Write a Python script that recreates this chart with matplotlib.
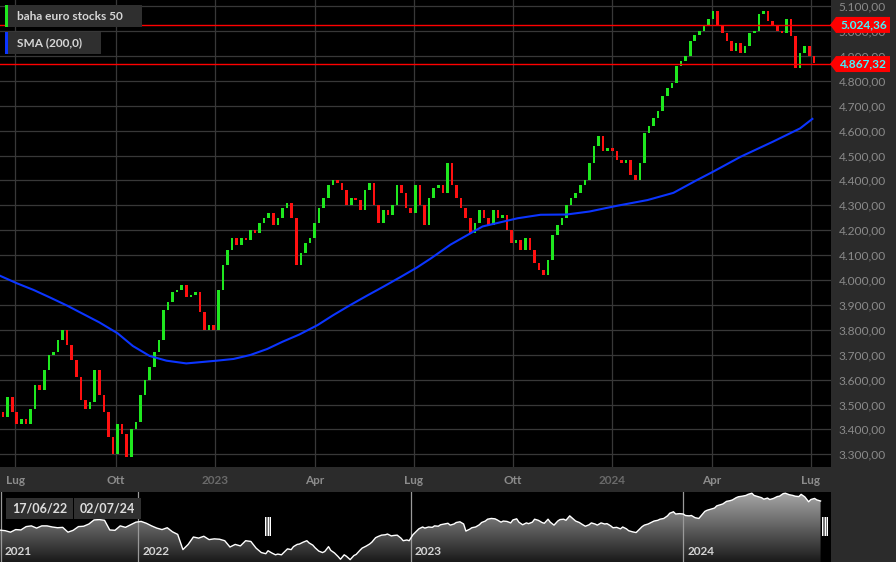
import numpy as np
import pandas as pd
import matplotlib
matplotlib.use("Agg")
import matplotlib.pyplot as plt
import matplotlib.dates as mdates
from matplotlib.patches import Rectangle, Polygon
from matplotlib.colors import LinearSegmentedColormap

plt.rcParams['font.family'] = ['Lato', 'DejaVu Sans']

# sedute di borsa dal 17/06/22, una candela ogni 3 sedute
days = pd.bdate_range('2022-06-17', periods=545)
candle_idx = np.arange(2, 534, 3)
first_open = 3470
closes = [
    3450, 3530, 3470, 3420, 3440, 3420, 3480, 3580, 3560, 3640,
    3700, 3710, 3760, 3800, 3740, 3680, 3610, 3520, 3480, 3510,
    3640, 3540, 3470, 3370, 3300, 3420, 3380, 3290, 3400, 3430,
    3540, 3600, 3650, 3710, 3760, 3880, 3910, 3950, 3960, 3980,
    3930, 3940, 3950, 3870, 3800, 3820, 3800,
    3960, 4060, 4120, 4170, 4140, 4170, 4160, 4200, 4190, 4230,
    4250, 4270, 4220, 4250, 4290, 4310, 4250, 4060, 4110, 4150,
    4170, 4230, 4290, 4330, 4380, 4400, 4390, 4360, 4300, 4330,
    4320, 4280, 4360, 4390, 4300, 4230, 4280, 4260, 4300, 4380,
    4350, 4290, 4270, 4380, 4300, 4220, 4330, 4370, 4380, 4350,
    4470, 4380, 4330, 4290, 4250, 4190, 4230, 4280, 4250, 4220,
    4280, 4250, 4260, 4200, 4150, 4160, 4120, 4170, 4120, 4070,
    4040, 4020, 4080, 4180, 4220, 4250, 4300, 4330, 4350, 4380,
    4400, 4470, 4540, 4580, 4520, 4530,
    4520, 4480, 4470, 4480, 4420, 4400, 4470, 4590, 4620, 4650,
    4680, 4740, 4770, 4790, 4860, 4880, 4900, 4960, 4985, 5000,
    5020, 5050, 5080, 5020, 4990, 4960, 4920, 4950, 4910, 4940,
    4990, 5000, 5070, 5080, 5040, 5020, 5000, 4990, 5050, 4980,
    4850, 4910, 4940, 4900, 4870,
]

# media mobile a 200 giorni
sma_idx = [0, 11, 22, 33, 44, 54, 65, 77, 87, 98, 109, 122, 142, 153, 164, 175,
           185, 196, 208, 218, 229, 240, 251, 262, 273, 282, 295, 316, 339, 354,
           371, 386, 404, 424, 441, 456, 467, 485, 506, 524, 532]
sma_vals = [4017, 3987, 3960, 3929, 3897, 3865, 3830, 3786, 3735, 3695, 3676, 3665,
            3676, 3683, 3699, 3723, 3752, 3781, 3819, 3858, 3898, 3936, 3973, 4011,
            4050, 4086, 4142, 4215, 4248, 4262, 4263, 4275, 4298, 4321, 4350, 4400,
            4435, 4495, 4555, 4609, 4647]

levels = [5024.36, 4867.32]

quarter_starts = ['2022-07-01', '2022-10-01', '2023-01-01', '2023-04-01', '2023-07-01',
                  '2023-10-01', '2024-01-01', '2024-04-01', '2024-07-01']
quarter_labels = ['Lug', 'Ott', '2023', 'Apr', 'Lug', 'Ott', '2024', 'Apr', 'Lug']

# navigatore: chiusure settimanali prima del periodo selezionato
pre_dates = pd.date_range('2021-06-30', periods=51, freq='7D')
pre_vals = [4085, 4070, 4030, 4100, 4090, 4180, 4200, 4140, 4200, 4200,
            4170, 4150, 4160, 4030, 4080, 4180, 4190, 4250, 4360, 4370,
            4350, 4090, 4080, 4200, 4160, 4230, 4300, 4320, 4270, 4200,
            4140, 4100, 4150, 4040, 3970, 3560, 3700, 3900, 3870, 3920,
            3830, 3850, 3840, 3800, 3630, 3700, 3660, 3800, 3780, 3600,
            3480]
years = ['2022-01-01', '2023-01-01', '2024-01-01']
year_labels = ['2021', '2022', '2023', '2024']


def it_num(v):
    return f"{v:,.2f}".replace(',', 'X').replace('.', ',').replace('X', '.')


W, H = 896, 562
fig = plt.figure(figsize=(W / 100, H / 100), dpi=100, facecolor='#2b2b2b')
ax = fig.add_axes([0, 95 / H, 831 / W, 467 / H], facecolor='black')
nav = fig.add_axes([0, 0, 831 / W, 70 / H], facecolor='black')

# --- grafico principale ---
ax.set_xlim(0, 544.2)
ax.set_ylim(3249, 5124.5)
for s in ax.spines.values():
    s.set_visible(False)
ax.set_axisbelow(True)
ax.grid(True, color='#383838', lw=0.9)

opens = np.array([first_open] + closes[:-1])
cl = np.array(closes)
cols = np.where(cl >= opens, '#1fe81f', '#ff1010')
ax.bar(candle_idx, cl - opens, bottom=opens, width=1.7, color=cols, linewidth=0, zorder=2)

ax.plot(sma_idx, sma_vals, color='#0b35ff', lw=1.5, zorder=3)
for v in levels:
    ax.axhline(v, color='#ff0000', lw=1.0, zorder=4)

yt = list(range(3300, 5101, 100))
ax.yaxis.tick_right()
ax.set_yticks(yt)
ax.set_yticklabels([it_num(v) for v in yt])
ax.tick_params(axis='y', length=0, pad=5.5, labelsize=8.6, labelcolor='#8a8a8a')

qpos = [days.searchsorted(pd.Timestamp(q)) for q in quarter_starts]
ax.set_xticks(qpos)
ax.set_xticklabels(quarter_labels)
ax.tick_params(axis='x', length=0, pad=6, labelsize=8.5)
for t, lab in zip(ax.get_xticklabels(), quarter_labels):
    t.set_fontweight('bold')
    t.set_color('#6a6a6a' if lab.isdigit() else '#8c8c8c')

# etichette di prezzo a destra
dy = (5124.5 - 3249) / 467
yt_tr = ax.get_yaxis_transform()
for v in levels:
    h = 8 * dy
    pts = [(830 / 831, v), (836 / 831, v + h), (890 / 831, v + h),
           (890 / 831, v - h), (836 / 831, v - h)]
    ax.add_patch(Polygon(pts, closed=True, transform=yt_tr, facecolor='#ff0000',
                         edgecolor='none', clip_on=False, zorder=10))
    ax.text(840 / 831, v, it_num(v), transform=yt_tr, color='#3ff6ff', fontsize=8.6,
            fontweight='bold', va='center', ha='left', zorder=11, clip_on=False)

# legenda
def px_box(x0, y0, x1, y1):
    return (x0 / 831, 1 - y1 / 467), (x1 - x0) / 831, (y1 - y0) / 467

for (x0, y0, x1, y1), col, label in [((5, 5, 142, 27), '#1fe81f', 'baha euro stocks 50'),
                                     ((5, 32, 101, 54), '#0b35ff', 'SMA (200,0)')]:
    xy, w, hh = px_box(x0, y0, x1, y1)
    ax.add_patch(Rectangle(xy, w, hh, transform=ax.transAxes, facecolor='#2f2f2f',
                           edgecolor='none', zorder=6))
    xy, w, hh = px_box(x0, y0, x0 + 3, y1)
    ax.add_patch(Rectangle(xy, w, hh, transform=ax.transAxes, facecolor=col,
                           edgecolor='none', zorder=7))
    ax.text(17 / 831, 1 - (y0 + y1) / 2 / 467, label, transform=ax.transAxes,
            color='#d6d6d6', fontsize=8.6, fontweight='bold', va='center', zorder=8)

# --- navigatore ---
x0n = mdates.date2num(pd.Timestamp('2021-06-30'))
x1n = mdates.date2num(pd.Timestamp('2024-07-17'))
nav.set_xlim(x0n, x1n)
nav.set_ylim(3226, 5113)
nav.set_xticks([])
nav.set_yticks([])
for s in nav.spines.values():
    s.set_visible(False)

nav_x = mdates.date2num(list(pre_dates) + list(days[candle_idx]))
nav_y = np.array(pre_vals + closes)
poly = nav.fill_between(nav_x, 3226, nav_y, color='none')
cmap = LinearSegmentedColormap.from_list('nav', ['#1a1a1a', '#a8a8a8'])
im = nav.imshow(np.linspace(0, 1, 256).reshape(-1, 1), cmap=cmap, origin='lower',
                extent=[x0n, x1n, 3226, 5113], aspect='auto', zorder=1)
im.set_clip_path(poly.get_paths()[0], transform=nav.transData)
nav.plot(nav_x, nav_y, color='white', lw=1.0, zorder=3)

px_day = 831 / (x1n - x0n)
xt = nav.get_xaxis_transform()
year_x = [x0n + 0.5 / px_day] + [mdates.date2num(pd.Timestamp(y)) for y in years]
for xv, lab in zip(year_x, year_labels):
    nav.axvline(xv, color='#9a9a9a', lw=0.9, zorder=2)
    nav.text(xv + 4 / px_day, 0.07, lab, transform=xt, color='#d4d4d4', fontsize=8.5,
             fontweight='bold', va='bottom', ha='left', zorder=5)

for (bx0, bx1), lab in [((6, 73), '17/06/22'), ((74, 141), '02/07/24')]:
    nav.add_patch(Rectangle((bx0 / 831, (562 - 519) / 70), (bx1 - bx0) / 831, 21 / 70,
                            transform=nav.transAxes, facecolor='#303030', edgecolor='none',
                            zorder=6))
    nav.text((bx0 + bx1) / 2 / 831, (562 - 508.5) / 70, lab, transform=nav.transAxes,
             color='#dedede', fontsize=9, fontweight='bold', ha='center', va='center',
             zorder=7)

for hx in (265, 822):
    nav.add_patch(Rectangle((hx / 831, 26 / 70), 6 / 831, 19 / 70, transform=nav.transAxes,
                            facecolor='#777777', edgecolor='none', zorder=8))
    for off in (0.5, 3, 5.5):
        nav.add_patch(Rectangle(((hx + off - 0.5) / 831, 26 / 70), 1 / 831, 19 / 70,
                                transform=nav.transAxes, facecolor='white',
                                edgecolor='none', zorder=9))

fig.savefig('out.png', dpi=100, facecolor=fig.get_facecolor())
